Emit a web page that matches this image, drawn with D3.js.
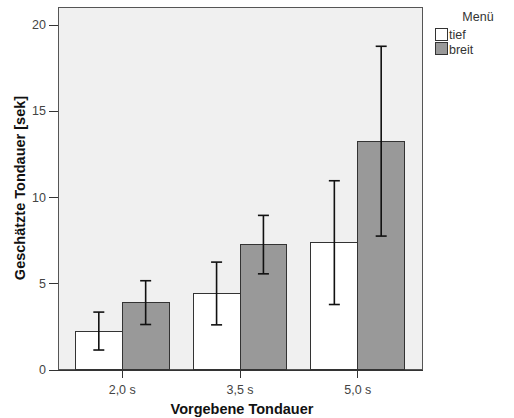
<!DOCTYPE html>
<html>
  <head>
    <meta http-equiv="Content-Type" content="text/html;charset=utf-8">
    <title>Geschätzte Tondauer</title>
    <script type="text/javascript" src="https://d3js.org/d3.v7.min.js"></script>
    <style>
	    html, body {
		    margin: 0;
		    padding: 0;
		    background: #fff;
	    }
	    text {
		    font-family: "Liberation Sans", Arial, sans-serif;
	    }
	    .axis text {
		    font-size: 12.5px;
		    fill: #444;
	    }
	    .axis path,
	    .axis line {
		    fill: none;
		    stroke: #333;
		    shape-rendering: crispEdges;
	    }
	    .title {
		    font-size: 14.5px;
		    font-weight: bold;
		    fill: #111;
	    }
    </style>
  </head>
  <body>
	<script type="text/javascript">

var categories = ["2,0 s", "3,5 s", "5,0 s"];
var groups = ["tief", "breit"];
var tiefMean = [2.23, 4.42, 7.39];
var tiefLow = [1.13, 2.59, 3.77];
var tiefHigh = [3.33, 6.23, 10.95];
var breitMean = [3.87, 7.27, 13.23];
var breitLow = [2.61, 5.55, 7.74];
var breitHigh = [5.15, 8.94, 18.75];
var yTicks = [0, 5, 10, 15, 20];

var colors = { tief: "#ffffff", breit: "#999999" };

var plotLeft = 58, plotRight = 422, plotTop = 7.5, plotBottom = 369.5;

var rows = [];
categories.forEach(function(c, i) {
	rows.push({ cat: c, group: "tief", mean: tiefMean[i], lo: tiefLow[i], hi: tiefHigh[i] });
	rows.push({ cat: c, group: "breit", mean: breitMean[i], lo: breitLow[i], hi: breitHigh[i] });
});

var svg = d3.select("body").append("svg").attr("width", 514).attr("height", 418);

var x = d3.scaleBand().domain(categories).range([plotLeft, plotRight]).paddingInner(0.2045).paddingOuter(0.1477);
var xGroup = d3.scaleBand().domain(groups).range([0, x.bandwidth()]);
var y = d3.scaleLinear().domain([0, 21]).range([plotBottom, plotTop]);

// plot background
svg.append("rect")
	.attr("x", plotLeft).attr("y", plotTop)
	.attr("width", plotRight - plotLeft).attr("height", plotBottom - plotTop)
	.attr("fill", "#f0f0f0")
	.attr("stroke", "#555")
	.attr("stroke-width", 1)
	.attr("shape-rendering", "crispEdges");

// bars
svg.selectAll("rect.bar").data(rows).enter().append("rect")
	.attr("class", "bar")
	.attr("x", function(d) { return x(d.cat) + xGroup(d.group); })
	.attr("y", function(d) { return y(d.mean); })
	.attr("width", xGroup.bandwidth())
	.attr("height", function(d) { return y(0) - y(d.mean); })
	.attr("fill", function(d) { return colors[d.group]; })
	.attr("stroke", "#333")
	.attr("stroke-width", 1)
	.attr("shape-rendering", "crispEdges");

// error bars
var err = svg.selectAll("g.err").data(rows).enter().append("g")
	.attr("class", "err")
	.attr("transform", function(d) { return "translate(" + (x(d.cat) + xGroup(d.group) + xGroup.bandwidth() / 2) + ",0)"; });
err.append("line")
	.attr("x1", 0).attr("x2", 0)
	.attr("y1", function(d) { return y(d.lo); })
	.attr("y2", function(d) { return y(d.hi); })
	.attr("stroke", "#111").attr("stroke-width", 1.6);
err.append("line")
	.attr("x1", -5.5).attr("x2", 5.5)
	.attr("y1", function(d) { return y(d.hi); })
	.attr("y2", function(d) { return y(d.hi); })
	.attr("stroke", "#111").attr("stroke-width", 1.6);
err.append("line")
	.attr("x1", -5.5).attr("x2", 5.5)
	.attr("y1", function(d) { return y(d.lo); })
	.attr("y2", function(d) { return y(d.lo); })
	.attr("stroke", "#111").attr("stroke-width", 1.6);

// axes
var xAxis = d3.axisBottom(x).tickSize(8).tickPadding(8);
svg.append("g")
	.attr("class", "axis x")
	.attr("transform", "translate(0," + plotBottom + ")")
	.call(xAxis)
	.call(function(g) { g.select(".domain").attr("d", "M" + (plotLeft - 8) + ",0.5H" + (plotRight + 1)); });

var yAxis = d3.axisLeft(y).tickValues(yTicks).tickSize(9).tickPadding(3);
svg.append("g")
	.attr("class", "axis y")
	.attr("transform", "translate(" + plotLeft + ",0)")
	.call(yAxis)
	.call(function(g) { g.select(".domain").remove(); });

// axis titles
svg.append("text")
	.attr("class", "title")
	.attr("x", 242)
	.attr("y", 414)
	.attr("text-anchor", "middle")
	.text("Vorgebene Tondauer");

svg.append("text")
	.attr("class", "title")
	.attr("transform", "translate(25,188) rotate(-90)")
	.attr("text-anchor", "middle")
	.text("Geschätzte Tondauer [sek]");

// legend
var legend = svg.append("g").attr("transform", "translate(435,0)");
legend.append("text")
	.attr("x", 43).attr("y", 21)
	.attr("text-anchor", "middle")
	.attr("font-size", 12.5)
	.attr("fill", "#333")
	.text("Menü");
var items = legend.selectAll("g.item").data(groups).enter().append("g")
	.attr("class", "item")
	.attr("transform", function(d, i) { return "translate(0," + (28 + i * 14.5) + ")"; });
items.append("rect")
	.attr("width", 12).attr("height", 12)
	.attr("fill", function(d) { return colors[d]; })
	.attr("stroke", "#333")
	.attr("shape-rendering", "crispEdges");
items.append("text")
	.attr("x", 14).attr("y", 11)
	.attr("font-size", 12.5)
	.attr("fill", "#333")
	.text(function(d) { return d; });

	</script>
  </body>
</html>
